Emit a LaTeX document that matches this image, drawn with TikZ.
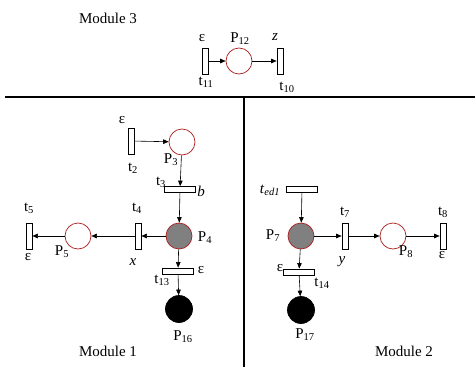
\documentclass[tikz,border=0pt]{standalone}
\usepackage{fontspec}
\setmainfont{Liberation Serif}
\usetikzlibrary{arrows.meta}
\definecolor{placered}{RGB}{170,30,30}
\definecolor{placegray}{RGB}{128,128,128}
\begin{document}
\begin{tikzpicture}[x=1pt,y=-1pt,
  place/.style={circle,draw=placered,line width=0.7pt,minimum size=26pt,inner sep=0pt},
  grayplace/.style={place,fill=placegray},
  blackplace/.style={circle,fill=black,draw=black,line width=0.7pt,minimum size=27pt,inner sep=0pt},
  vtrans/.style={draw,line width=0.7pt,minimum width=6pt,minimum height=26pt,inner sep=0pt},
  htrans/.style={draw,line width=0.7pt,minimum width=31pt,minimum height=6pt,inner sep=0pt},
  arc/.style={-{Triangle[length=5.5pt,width=4.5pt]},line width=0.6pt},
  lbl/.style={inner sep=0pt,font=\fontsize{15}{18}\selectfont},
  divider/.style={line width=1.3pt}]
\useasboundingbox (0,0) rectangle (475,367);

% dividers
\coordinate (hl) at (5,97);
\coordinate (hr) at (475,97);
\coordinate (vt) at (244,97);
\coordinate (vb) at (244,367);
\draw[divider] (hl) -- (hr);
\draw[divider] (vt) -- (vb);

% Module 3
\node[lbl] (m3) at (108,18) {Module 3};
\node[vtrans] (t11) at (205,61) {};
\node[place] (P12) at (239,61) {};
\node[vtrans] (t10) at (280,61) {};
\draw[arc] (t11) -- (P12);
\draw[arc] (P12) -- (t10);
\node[lbl] (e11) at (202,38) {ε};
\node[lbl] (lP12) at (240,39) {P\textsubscript{12}};
\node[lbl] (lz) at (275,37) {\textit{z}};
\node[lbl] (lt11) at (206,82) {t\textsubscript{11}};
\node[lbl] (lt10) at (287,87) {t\textsubscript{10}};

% Module 1
\node[vtrans] (t2) at (131,141) {};
\node[place] (P3) at (182,142) {};
\node[htrans] (t3) at (180,189.5) {};
\node[grayplace] (P4) at (179,236) {};
\node[vtrans] (t4) at (138,236) {};
\node[place] (P5) at (78,236) {};
\node[vtrans] (t5) at (29,236) {};
\node[htrans] (t13) at (178,271) {};
\node[blackplace] (P16) at (179,309) {};
\draw[arc] (t2) -- (P3);
\draw[arc] (P3) -- (t3);
\draw[arc] (t3) -- (P4);
\draw[arc] (P4) -- (t4);
\draw[arc] (t4) -- (P5);
\draw[arc] (P5) -- (t5);
\draw[arc] (P4) -- (t13);
\draw[arc] (t13) -- (P16);
\node[lbl] (e2) at (122,120) {ε};
\node[lbl] (lt2) at (133,168) {t\textsubscript{2}};
\node[lbl] (lP3) at (171,160) {P\textsubscript{3}};
\node[lbl] (lt3) at (161,182) {t\textsubscript{3}};
\node[lbl] (lb) at (201,191) {\textit{b}};
\node[lbl] (lt4) at (137,208) {t\textsubscript{4}};
\node[lbl] (lt5) at (29,208) {t\textsubscript{5}};
\node[lbl] (lP4) at (205,238) {P\textsubscript{4}};
\node[lbl] (lP5) at (62,252) {P\textsubscript{5}};
\node[lbl] (lx) at (133,262) {\textit{x}};
\node[lbl] (e5) at (28,257) {ε};
\node[lbl] (lt13) at (162,280) {t\textsubscript{13}};
\node[lbl] (e13) at (201,270) {ε};
\node[lbl] (lP16) at (183,337) {P\textsubscript{16}};
\node[lbl] (m1) at (108,351) {Module 1};

% Module 2
\node[htrans] (ted1) at (302,189) {};
\node[grayplace] (P7) at (301,236) {};
\node[vtrans] (t7) at (345,236) {};
\node[place] (P8) at (393,236) {};
\node[vtrans] (t8) at (443,236) {};
\node[htrans] (t14) at (299,272) {};
\node[blackplace] (P17) at (301,310) {};
\draw[arc] (ted1) -- (P7);
\draw[arc] (P7) -- (t7);
\draw[arc] (t7) -- (P8);
\draw[arc] (P8) -- (t8);
\draw[arc] (P7) -- (t14);
\draw[arc] (t14) -- (P17);
\node[lbl] (lted1) at (270,190) {\textit{t}\textsubscript{\textit{ed1}}};
\node[lbl] (lP7) at (273,236) {P\textsubscript{7}};
\node[lbl] (lt7) at (345,212) {t\textsubscript{7}};
\node[lbl] (ly) at (342,262) {\textit{y}};
\node[lbl] (lP8) at (406,252) {P\textsubscript{8}};
\node[lbl] (lt8) at (443,212) {t\textsubscript{8}};
\node[lbl] (e8) at (442,255) {ε};
\node[lbl] (e14) at (280,268) {ε};
\node[lbl] (lt14) at (322,283) {t\textsubscript{14}};
\node[lbl] (lP17) at (305,335) {P\textsubscript{17}};
\node[lbl] (m2) at (404,351) {Module 2};
\end{tikzpicture}
\end{document}
